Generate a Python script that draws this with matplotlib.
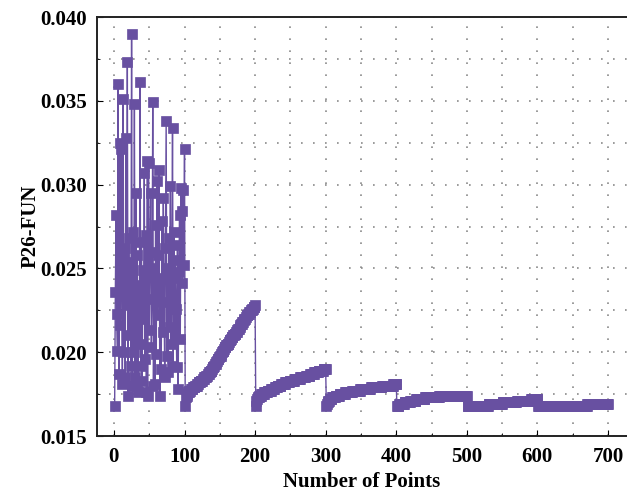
import numpy as np
import matplotlib
matplotlib.use("Agg")
import matplotlib.pyplot as plt
from matplotlib.ticker import MultipleLocator, FormatStrFormatter

# P26-FUN value for every point, in runs of 100 points
run1 = [0.0168, 0.0236, 0.0282, 0.0223, 0.0201, 0.0360, 0.0187, 0.0325, 0.0216, 0.0321,
        0.0245, 0.0181, 0.0351, 0.0200, 0.0262, 0.0185, 0.0328, 0.0228, 0.0373, 0.0174,
        0.0268, 0.0210, 0.0254, 0.0192, 0.0390, 0.0180, 0.0272, 0.0200, 0.0348, 0.0185,
        0.0295, 0.0180, 0.0258, 0.0176, 0.0240, 0.0205, 0.0361, 0.0192, 0.0266, 0.0183,
        0.0249, 0.0220, 0.0307, 0.0196, 0.0270, 0.0176, 0.0314, 0.0174, 0.0313, 0.0213,
        0.0260, 0.0295, 0.0203, 0.0232, 0.0349, 0.0180, 0.0250, 0.0181, 0.0276, 0.0199,
        0.0302, 0.0222, 0.0258, 0.0309, 0.0174, 0.0244, 0.0190, 0.0278, 0.0212, 0.0292,
        0.0230, 0.0185, 0.0262, 0.0338, 0.0198, 0.0250, 0.0188, 0.0268, 0.0215, 0.0299,
        0.0205, 0.0244, 0.0334, 0.0192, 0.0272, 0.0210, 0.0255, 0.0226, 0.0191, 0.0264,
        0.0178, 0.0248, 0.0282, 0.0208, 0.0298, 0.0284, 0.0241, 0.0297, 0.0252, 0.0321]
run2 = [0.0168, 0.0173, 0.0174, 0.0175, 0.0176, 0.0176, 0.0177, 0.0177, 0.0178, 0.0178,
        0.0178, 0.0179, 0.0179, 0.0179, 0.0180, 0.0180, 0.0180, 0.0181, 0.0181, 0.0182,
        0.0182, 0.0182, 0.0183, 0.0183, 0.0183, 0.0184, 0.0184, 0.0185, 0.0185, 0.0185,
        0.0186, 0.0186, 0.0187, 0.0187, 0.0188, 0.0188, 0.0189, 0.0189, 0.0190, 0.0191,
        0.0191, 0.0192, 0.0193, 0.0193, 0.0194, 0.0195, 0.0196, 0.0196, 0.0197, 0.0198,
        0.0198, 0.0199, 0.0200, 0.0201, 0.0201, 0.0202, 0.0203, 0.0203, 0.0204, 0.0204,
        0.0205, 0.0205, 0.0206, 0.0207, 0.0207, 0.0208, 0.0209, 0.0209, 0.0210, 0.0210,
        0.0211, 0.0211, 0.0212, 0.0212, 0.0213, 0.0214, 0.0214, 0.0215, 0.0216, 0.0217,
        0.0217, 0.0218, 0.0218, 0.0219, 0.0220, 0.0220, 0.0221, 0.0222, 0.0222, 0.0223,
        0.0223, 0.0224, 0.0224, 0.0225, 0.0225, 0.0226, 0.0226, 0.0227, 0.0227, 0.0228]
run3 = [0.0168, 0.0171, 0.0172, 0.0173, 0.0173, 0.0174, 0.0174, 0.0174, 0.0175, 0.0175,
        0.0175, 0.0175, 0.0176, 0.0176, 0.0176, 0.0176, 0.0176, 0.0177, 0.0177, 0.0177,
        0.0177, 0.0177, 0.0178, 0.0178, 0.0178, 0.0178, 0.0178, 0.0179, 0.0179, 0.0179,
        0.0179, 0.0180, 0.0180, 0.0180, 0.0180, 0.0180, 0.0181, 0.0181, 0.0181, 0.0181,
        0.0181, 0.0181, 0.0182, 0.0182, 0.0182, 0.0182, 0.0182, 0.0182, 0.0183, 0.0183,
        0.0183, 0.0183, 0.0183, 0.0183, 0.0183, 0.0184, 0.0184, 0.0184, 0.0184, 0.0184,
        0.0184, 0.0184, 0.0184, 0.0185, 0.0185, 0.0185, 0.0185, 0.0185, 0.0185, 0.0185,
        0.0185, 0.0186, 0.0186, 0.0186, 0.0186, 0.0186, 0.0186, 0.0187, 0.0187, 0.0187,
        0.0187, 0.0187, 0.0187, 0.0188, 0.0188, 0.0188, 0.0188, 0.0188, 0.0188, 0.0189,
        0.0189, 0.0189, 0.0189, 0.0189, 0.0189, 0.0189, 0.0190, 0.0190, 0.0190, 0.0190]
run4 = [0.0168, 0.0169, 0.0170, 0.0171, 0.0171, 0.0172, 0.0172, 0.0172, 0.0173, 0.0173,
        0.0173, 0.0173, 0.0173, 0.0174, 0.0174, 0.0174, 0.0174, 0.0174, 0.0174, 0.0175,
        0.0175, 0.0175, 0.0175, 0.0175, 0.0175, 0.0175, 0.0175, 0.0176, 0.0176, 0.0176,
        0.0176, 0.0176, 0.0176, 0.0176, 0.0176, 0.0176, 0.0176, 0.0177, 0.0177, 0.0177,
        0.0177, 0.0177, 0.0177, 0.0177, 0.0177, 0.0177, 0.0177, 0.0177, 0.0178, 0.0178,
        0.0178, 0.0178, 0.0178, 0.0178, 0.0178, 0.0178, 0.0178, 0.0178, 0.0178, 0.0178,
        0.0178, 0.0178, 0.0178, 0.0179, 0.0179, 0.0179, 0.0179, 0.0179, 0.0179, 0.0179,
        0.0179, 0.0179, 0.0179, 0.0179, 0.0179, 0.0179, 0.0179, 0.0179, 0.0179, 0.0180,
        0.0180, 0.0180, 0.0180, 0.0180, 0.0180, 0.0180, 0.0180, 0.0180, 0.0180, 0.0180,
        0.0180, 0.0180, 0.0180, 0.0180, 0.0180, 0.0181, 0.0181, 0.0181, 0.0181, 0.0181]
run5 = [0.0168, 0.0168, 0.0168, 0.0169, 0.0169, 0.0169, 0.0169, 0.0169, 0.0169, 0.0169,
        0.0169, 0.0170, 0.0170, 0.0170, 0.0170, 0.0170, 0.0170, 0.0170, 0.0170, 0.0171,
        0.0171, 0.0171, 0.0171, 0.0171, 0.0171, 0.0171, 0.0171, 0.0172, 0.0172, 0.0172,
        0.0172, 0.0172, 0.0172, 0.0172, 0.0172, 0.0172, 0.0172, 0.0172, 0.0172, 0.0172,
        0.0173, 0.0173, 0.0173, 0.0173, 0.0173, 0.0173, 0.0173, 0.0173, 0.0173, 0.0173,
        0.0173, 0.0173, 0.0173, 0.0173, 0.0173, 0.0173, 0.0173, 0.0173, 0.0173, 0.0173,
        0.0174, 0.0174, 0.0174, 0.0174, 0.0174, 0.0174, 0.0174, 0.0174, 0.0174, 0.0174,
        0.0174, 0.0174, 0.0174, 0.0174, 0.0174, 0.0174, 0.0174, 0.0174, 0.0174, 0.0174,
        0.0174, 0.0174, 0.0174, 0.0174, 0.0174, 0.0174, 0.0174, 0.0174, 0.0174, 0.0174,
        0.0174, 0.0174, 0.0174, 0.0174, 0.0174, 0.0174, 0.0174, 0.0174, 0.0174, 0.0174]
run6 = [0.0168, 0.0168, 0.0168, 0.0168, 0.0168, 0.0168, 0.0168, 0.0168, 0.0168, 0.0168,
        0.0168, 0.0168, 0.0168, 0.0168, 0.0168, 0.0168, 0.0168, 0.0168, 0.0168, 0.0168,
        0.0168, 0.0168, 0.0168, 0.0168, 0.0168, 0.0168, 0.0168, 0.0168, 0.0168, 0.0168,
        0.0169, 0.0169, 0.0169, 0.0169, 0.0169, 0.0169, 0.0169, 0.0169, 0.0169, 0.0169,
        0.0169, 0.0169, 0.0169, 0.0169, 0.0169, 0.0169, 0.0169, 0.0169, 0.0169, 0.0169,
        0.0170, 0.0170, 0.0170, 0.0170, 0.0170, 0.0170, 0.0170, 0.0170, 0.0170, 0.0170,
        0.0170, 0.0170, 0.0170, 0.0170, 0.0170, 0.0170, 0.0170, 0.0170, 0.0170, 0.0170,
        0.0171, 0.0171, 0.0171, 0.0171, 0.0171, 0.0171, 0.0171, 0.0171, 0.0171, 0.0171,
        0.0171, 0.0171, 0.0171, 0.0171, 0.0171, 0.0171, 0.0171, 0.0171, 0.0171, 0.0171,
        0.0172, 0.0172, 0.0172, 0.0172, 0.0172, 0.0172, 0.0172, 0.0172, 0.0172, 0.0172]
run7 = [0.0168, 0.0168, 0.0168, 0.0168, 0.0168, 0.0168, 0.0168, 0.0168, 0.0168, 0.0168,
        0.0168, 0.0168, 0.0168, 0.0168, 0.0168, 0.0168, 0.0168, 0.0168, 0.0168, 0.0168,
        0.0168, 0.0168, 0.0168, 0.0168, 0.0168, 0.0168, 0.0168, 0.0168, 0.0168, 0.0168,
        0.0168, 0.0168, 0.0168, 0.0168, 0.0168, 0.0168, 0.0168, 0.0168, 0.0168, 0.0168,
        0.0168, 0.0168, 0.0168, 0.0168, 0.0168, 0.0168, 0.0168, 0.0168, 0.0168, 0.0168,
        0.0168, 0.0168, 0.0168, 0.0168, 0.0168, 0.0168, 0.0168, 0.0168, 0.0168, 0.0168,
        0.0168, 0.0168, 0.0168, 0.0168, 0.0168, 0.0168, 0.0168, 0.0168, 0.0168, 0.0168,
        0.0169, 0.0169, 0.0169, 0.0169, 0.0169, 0.0169, 0.0169, 0.0169, 0.0169, 0.0169,
        0.0169, 0.0169, 0.0169, 0.0169, 0.0169, 0.0169, 0.0169, 0.0169, 0.0169, 0.0169,
        0.0169, 0.0169, 0.0169, 0.0169, 0.0169, 0.0169, 0.0169, 0.0169, 0.0169, 0.0169]

values = np.concatenate([run1, run2, run3, run4, run5, run6, run7])
points = np.arange(1, len(values) + 1)

color = "#6850a1"
plt.rcParams["font.family"] = ["Liberation Serif", "DejaVu Serif"]
plt.rcParams["font.weight"] = "bold"

fig = plt.figure(figsize=(6.27, 4.99), dpi=100)
ax = fig.add_axes([97 / 627, 63 / 499, 530 / 627, 419 / 499])

ax.plot(points, values, color=color, lw=1.0, marker="s", markersize=7.3,
        markerfacecolor=color, markeredgecolor=color, markeredgewidth=0.5)

ax.set_xlim(-24, 727)
ax.set_ylim(0.015, 0.040)
ax.xaxis.set_major_locator(MultipleLocator(100))
ax.xaxis.set_minor_locator(MultipleLocator(50))
ax.yaxis.set_major_locator(MultipleLocator(0.005))
ax.yaxis.set_minor_locator(MultipleLocator(0.0025))
ax.yaxis.set_major_formatter(FormatStrFormatter("%.3f"))

# sparse dotted grid on every major and minor tick
dots = (0, (1, 6.2))
ax.grid(True, which="both", color="#8a8a8a", lw=1.2, linestyle=dots)
ax.set_axisbelow(True)

ax.tick_params(which="both", direction="in", labelsize=15, top=False, right=False)
ax.tick_params(which="major", length=4, width=0.8)
ax.tick_params(which="minor", length=2, width=0.6)
ax.tick_params(axis="y", pad=7)
ax.tick_params(axis="x", pad=8)

for side in ["left", "bottom", "top"]:
    ax.spines[side].set_linewidth(1.4)
    ax.spines[side].set_color("#222222")
ax.spines["right"].set_visible(False)

ax.set_xlabel("Number of Points", fontsize=15, fontweight="bold", va="center")
ax.set_ylabel("P26-FUN", fontsize=15, fontweight="bold", va="center")
ax.xaxis.set_label_coords(0.5, -0.11)
ax.yaxis.set_label_coords(-0.126, 0.5)

fig.savefig("out.png", dpi=100)
